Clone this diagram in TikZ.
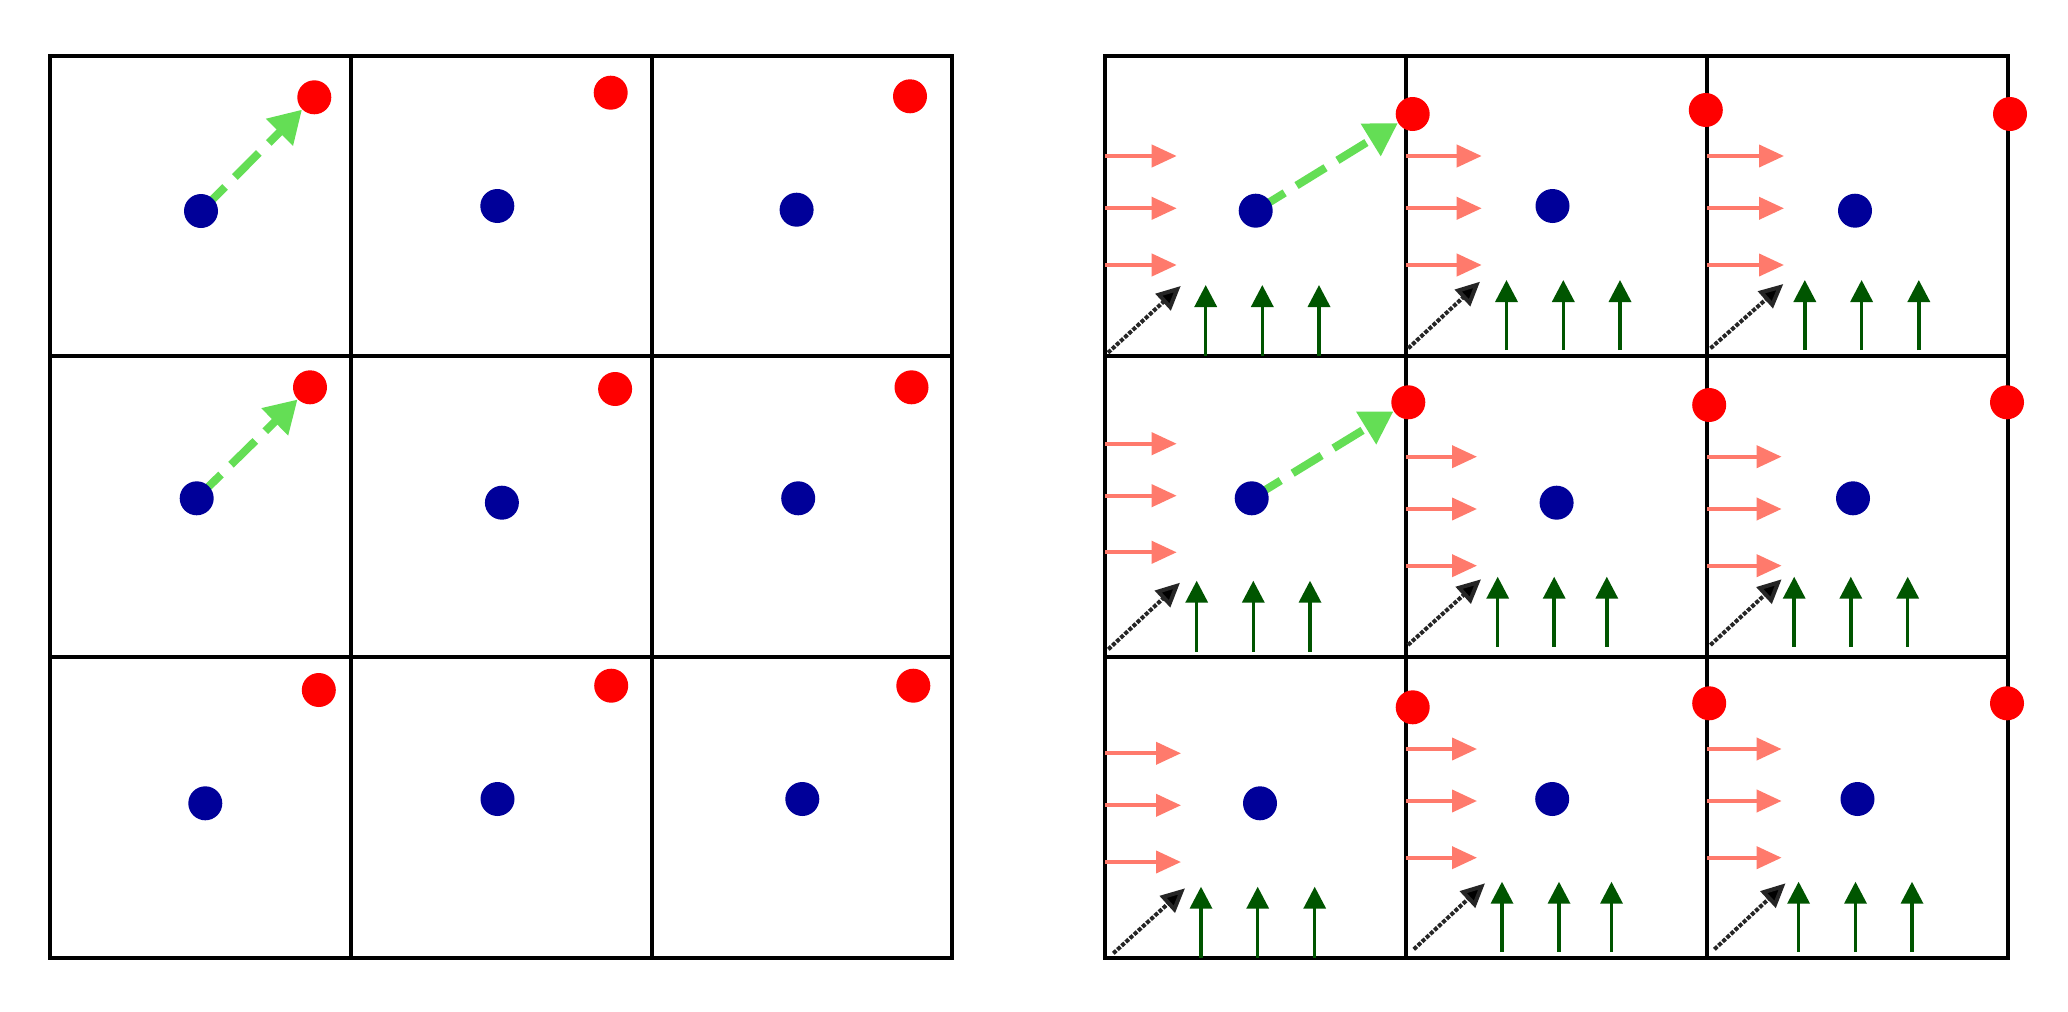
\documentclass[tikz,border=0pt]{standalone}
\usetikzlibrary{arrows.meta,backgrounds}
\definecolor{dotblue}{RGB}{0,0,153}
\definecolor{salm}{RGB}{255,122,108}
\definecolor{dgreen}{RGB}{0,85,0}
\definecolor{lgreen}{RGB}{100,222,85}
\tikzset{
  gridline/.style={line width=2pt, black},
  bdot/.style={circle, fill=dotblue, minimum size=17pt, inner sep=0pt},
  rdot/.style={circle, fill=red, minimum size=17pt, inner sep=0pt},
  flowarrow/.style={salm, line width=2pt, -{Triangle[length=12.5pt,width=11pt]}},
  uparrow/.style={dgreen, line width=1.75pt, -{Triangle[length=11pt,width=11pt]}},
  diagarrow/.style={black!85, line width=2pt, dash pattern=on 2pt off 0.8pt, -{Triangle[length=12pt,width=11pt,fill=black]}},
  movearrow/.style={lgreen, line width=4pt, dash pattern=on 17pt off 7pt, -{Triangle[length=16pt,width=18pt]}},
}
\begin{document}
\begin{tikzpicture}[x=0.5pt,y=-0.5pt]
\useasboundingbox (0,0) rectangle (2068,1012);
\begin{pgfonlayer}{background}
\fill[white] (0,0) rectangle (2068,1012);
\end{pgfonlayer}

% ---------- left grid ----------
\draw[gridline] (50,55.5) rectangle (952,958);
\draw[gridline] (351,55.5) -- (351,958) (652,55.5) -- (652,958);
\draw[gridline] (50,356) -- (952,356) (50,657) -- (952,657);

\node[bdot] (L00b) at (201,211) {};     \node[rdot] (L00r) at (314.3,97.3) {};
\node[bdot] (L10b) at (497.3,206) {};   \node[rdot] (L10r) at (610.7,92.7) {};
\node[bdot] (L20b) at (796.6,209.7) {}; \node[rdot] (L20r) at (910,96.3) {};
\node[bdot] (L01b) at (196.7,498.3) {}; \node[rdot] (L01r) at (310,387.3) {};
\node[bdot] (L11b) at (501.9,502.7) {}; \node[rdot] (L11r) at (615.1,389) {};
\node[bdot] (L21b) at (798.2,498.3) {}; \node[rdot] (L21r) at (911.5,387.3) {};
\node[bdot] (L02b) at (205.3,803.3) {}; \node[rdot] (L02r) at (318.8,690) {};
\node[bdot] (L12b) at (497.5,799) {};   \node[rdot] (L12r) at (611.2,685.7) {};
\node[bdot] (L22b) at (802.3,799) {};   \node[rdot] (L22r) at (913.3,685.7) {};

% ---------- right grid ----------
\draw[gridline] (1105,55.5) rectangle (2008,958);
\draw[gridline] (1406,55.5) -- (1406,958) (1707,55.5) -- (1707,958);
\draw[gridline] (1105,356) -- (2008,356) (1105,657) -- (2008,657);

% horizontal flow arrows
\foreach \xa/\xb/\ya/\yb/\yc in {
  1105/1176.7/156/208.3/265,
  1406/1481.7/156/208.3/265,
  1707/1784/156/208.3/265,
  1105/1176.7/443.7/495.7/552.3,
  1406/1477/456.7/509/565.7,
  1707/1781.6/456.7/509/565.7,
  1105/1181/753.3/805.3/862,
  1406/1477/749/801/857.7,
  1707/1781.6/749/801/857.7}{
  \draw[flowarrow] (\xa,\ya) -- (\xb,\ya);
  \draw[flowarrow] (\xa,\yb) -- (\xb,\yb);
  \draw[flowarrow] (\xa,\yc) -- (\xb,\yc);
}

% diagonal arrows
\foreach \sx/\sy/\tx/\ty in {
  1108/352.7/1180.7/286,
  1408.3/348.3/1480/281.7,
  1710.5/348.3/1783.3/284,
  1108.3/649.3/1180/582.7,
  1408/645/1481/579.3,
  1710.4/645/1781.6/579.3,
  1113.3/953.3/1185/888.3,
  1413.8/949.3/1485/883.3,
  1714.4/949.3/1785.5/883.3}{
  \draw[diagarrow] (\sx,\sy) -- (\tx,\ty);
}

% vertical arrows
\foreach \xa/\xb/\xc/\yb/\yt in {
  1205.7/1262.3/1319/356/285,
  1506.5/1563.3/1620/350/280,
  1804.8/1861.6/1918.8/350/280,
  1196.7/1253.3/1310/651.7/580.7,
  1497.7/1554.2/1606.8/646.7/576.7,
  1794.2/1850.8/1907.7/646.7/576.7,
  1201/1257.7/1314.7/958/886.7,
  1502/1559/1611.5/951.7/881.7,
  1798.6/1855.5/1912/951.7/881.7}{
  \draw[uparrow] (\xa,\yb) -- (\xa,\yt);
  \draw[uparrow] (\xb,\yb) -- (\xb,\yt);
  \draw[uparrow] (\xc,\yb) -- (\xc,\yt);
}

\node[bdot] (R00b) at (1255.7,210.7) {}; \node[rdot] (R00r) at (1412.7,114) {};
\node[bdot] (R10b) at (1552.5,206) {};   \node[rdot] (R10r) at (1705.8,110) {};
\node[bdot] (R20b) at (1855,210.7) {};   \node[rdot] (R20r) at (2010,114) {};
\node[bdot] (R01b) at (1251.7,498.3) {}; \node[rdot] (R01r) at (1408.3,402.3) {};
\node[bdot] (R11b) at (1556.6,502.7) {}; \node[rdot] (R11r) at (1709.2,405) {};
\node[bdot] (R21b) at (1853,498.3) {};   \node[rdot] (R21r) at (2007,402.3) {};
\node[bdot] (R02b) at (1260,803.3) {};   \node[rdot] (R02r) at (1412.7,707.3) {};
\node[bdot] (R12b) at (1552.2,799) {};   \node[rdot] (R12r) at (1709.2,703.3) {};
\node[bdot] (R22b) at (1857.5,799) {};   \node[rdot] (R22r) at (2007,703.3) {};

% movement arrows (under the blue dots)
\begin{pgfonlayer}{background}
\draw[movearrow] (L00b.center) -- (L00r);
\draw[movearrow] (L01b.center) -- (L01r);
\draw[movearrow] (R00b.center) -- (R00r);
\draw[movearrow] (R01b.center) -- (R01r);
\end{pgfonlayer}
\end{tikzpicture}
\end{document}
